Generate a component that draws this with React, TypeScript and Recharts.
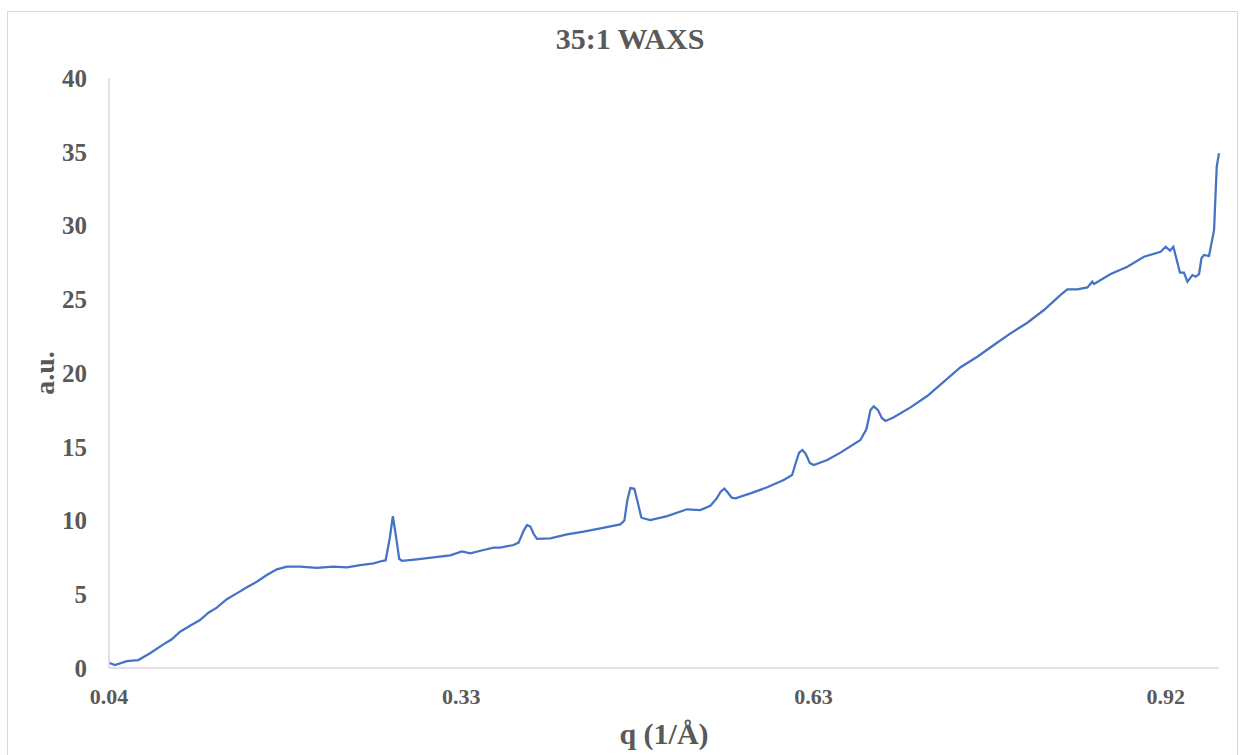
import { Label, Line, LineChart, XAxis, YAxis } from 'recharts'

// q (1/Å) positions
const qValues = [
  0.04, 0.045, 0.0548, 0.0644, 0.0742, 0.0853, 0.0923, 0.0992, 0.1075, 0.1158,
  0.1228, 0.1298, 0.1381, 0.1464, 0.1548, 0.1631, 0.1714, 0.1798, 0.1881, 0.1992,
  0.2131, 0.2269, 0.2381, 0.2492, 0.2603, 0.2681, 0.2704, 0.2738, 0.2764, 0.2792,
  0.2817, 0.2839, 0.2964, 0.3103, 0.3242, 0.3339, 0.3408, 0.3519, 0.3603, 0.3658,
  0.3769, 0.3811, 0.3853, 0.3881, 0.3908, 0.3936, 0.3964, 0.4075, 0.4214, 0.4353,
  0.4492, 0.4658, 0.4692, 0.4717, 0.4742, 0.4775, 0.4804, 0.4833, 0.4848, 0.4908,
  0.5048, 0.5214, 0.5325, 0.5408, 0.5461, 0.5494, 0.5525, 0.5553, 0.5586, 0.5617,
  0.5742, 0.5881, 0.6019, 0.6089, 0.6119, 0.6147, 0.6175, 0.6203, 0.6236, 0.6269,
  0.6381, 0.6492, 0.6658, 0.6708, 0.6742, 0.6769, 0.6803, 0.6836, 0.6867, 0.6936,
  0.7075, 0.7214, 0.7353, 0.7492, 0.7631, 0.7769, 0.7908, 0.8048, 0.8186, 0.8325,
  0.8381, 0.8464, 0.8548, 0.8589, 0.8603, 0.8742, 0.8881, 0.9019, 0.9158, 0.92,
  0.9236, 0.9264, 0.9319, 0.9352, 0.9381, 0.9423, 0.945, 0.9478, 0.9498, 0.9519,
  0.9561, 0.9603, 0.9625, 0.9644,
]

// intensity (a.u.)
const intensity = [
  0.36, 0.2, 0.47, 0.54, 1.0, 1.6, 1.95, 2.46, 2.87, 3.25,
  3.75, 4.09, 4.66, 5.06, 5.47, 5.85, 6.3, 6.69, 6.87, 6.87,
  6.78, 6.87, 6.83, 6.98, 7.1, 7.27, 7.3, 8.8, 10.3, 8.8,
  7.4, 7.27, 7.37, 7.5, 7.64, 7.91, 7.78, 8.0, 8.16, 8.16,
  8.34, 8.5, 9.3, 9.68, 9.6, 9.1, 8.75, 8.79, 9.06, 9.24,
  9.47, 9.74, 10.0, 11.4, 12.2, 12.15, 11.2, 10.2, 10.15, 10.03,
  10.3, 10.76, 10.71, 11.0, 11.5, 11.95, 12.16, 11.9, 11.55, 11.5,
  11.84, 12.25, 12.75, 13.08, 13.9, 14.6, 14.78, 14.5, 13.9, 13.76,
  14.1, 14.6, 15.46, 16.2, 17.5, 17.74, 17.5, 16.95, 16.75, 17.0,
  17.67, 18.44, 19.41, 20.39, 21.1, 21.9, 22.69, 23.41, 24.27, 25.29,
  25.67, 25.67, 25.8, 26.19, 26.03, 26.71, 27.2, 27.88, 28.22, 28.56,
  28.3, 28.56, 26.8, 26.8, 26.19, 26.64, 26.53, 26.71, 27.78, 28.0,
  27.93, 29.7, 33.99, 34.9,
]

const xTicks = [0.04, 0.3333, 0.6267, 0.92]
const yTicks = [0, 5, 10, 15, 20, 25, 30, 35, 40]

const data = qValues.map((q, i) => ({ q, value: intensity[i] }))

const font = '"Liberation Serif", "Times New Roman", serif'
const textColor = '#595959'
const axisColor = '#d9d9d9'

export default function App() {
  return (
    <div style={{ position: 'absolute', left: 0, top: 0, width: 1244, height: 755, overflow: 'hidden', background: '#fff' }}>
      <div
        style={{
          position: 'absolute',
          left: 7,
          top: 11,
          width: 1229,
          height: 760,
          border: '1px solid #d9d9d9',
        }}
      />
      <div
        style={{
          position: 'absolute',
          left: 430,
          top: 22,
          width: 400,
          textAlign: 'center',
          fontFamily: font,
          fontWeight: 'bold',
          fontSize: 30,
          lineHeight: '34px',
          color: textColor,
        }}
      >
        35:1 WAXS
      </div>
      <div style={{ position: 'absolute', left: 8, top: 12 }}>
        <LineChart
          width={1229}
          height={744}
          data={data}
          margin={{ top: 66, right: 18, bottom: 0, left: 0 }}
        >
          <XAxis
            dataKey="q"
            type="number"
            domain={[0.04, 0.9644]}
            ticks={xTicks}
            interval={0}
            tickFormatter={(v: number) => v.toFixed(2)}
            height={88}
            tickLine={false}
            tickSize={0}
            tickMargin={20}
            axisLine={{ stroke: axisColor, strokeWidth: 1.5 }}
            tick={{ fill: textColor, fontSize: 22, fontWeight: 'bold', fontFamily: font }}
          >
            <Label
              value="q (1/Å)"
              position="insideBottom"
              offset={12}
              style={{ fill: textColor, fontSize: 30, fontWeight: 'bold', fontFamily: font }}
            />
          </XAxis>
          <YAxis
            domain={[0, 40]}
            ticks={yTicks}
            interval={0}
            width={101}
            tickLine={false}
            tickSize={0}
            tickMargin={22}
            axisLine={{ stroke: axisColor, strokeWidth: 1.5 }}
            tick={{ fill: textColor, fontSize: 25, fontWeight: 'bold', fontFamily: font }}
          >
            <Label
              value="a.u."
              angle={-90}
              position="center"
              dx={-14}
              style={{ fill: textColor, fontSize: 28, fontWeight: 'bold', fontFamily: font }}
            />
          </YAxis>
          <Line
            type="linear"
            dataKey="value"
            stroke="#4472C4"
            strokeWidth={2.25}
            dot={false}
            isAnimationActive={false}
          />
        </LineChart>
      </div>
    </div>
  )
}
